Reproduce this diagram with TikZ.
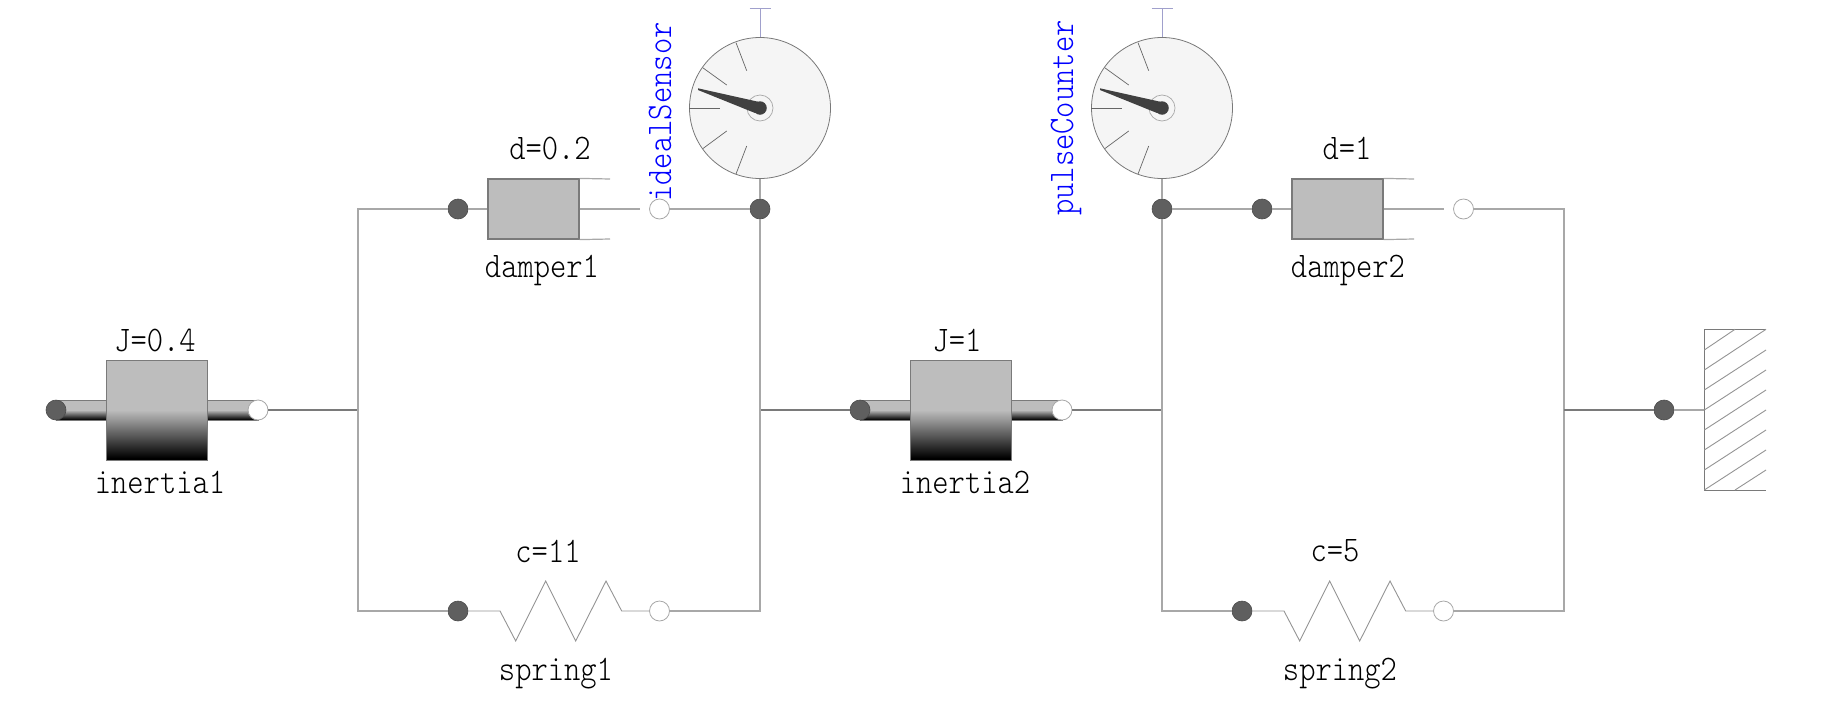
\documentclass[tikz,border=0pt]{standalone}
\usepackage{fontspec}
\newfontfamily\lblfont[FakeStretch=0.862]{Latin Modern Mono Light}
\definecolor{inertgray}{HTML}{BDBDBD}
\definecolor{wirecol}{HTML}{A8A8A8}
\definecolor{springcol}{HTML}{949494}
\definecolor{edgecol}{HTML}{7A7A7A}
\definecolor{dotcol}{HTML}{5F5F5F}
\definecolor{needlecol}{HTML}{404040}
\definecolor{facecol}{HTML}{F5F5F5}
\definecolor{topcol}{HTML}{A0A0CC}
\pgfdeclareverticalshading{inertshade}{100bp}{color(0bp)=(black); color(26bp)=(black); color(50bp)=(inertgray); color(75bp)=(inertgray); color(100bp)=(inertgray)}
\tikzset{
  wire/.style={draw=wirecol,line width=1.2pt},
  mainwire/.style={draw=edgecol,line width=1.2pt},
  thin line/.style={draw=springcol,line width=0.9pt},
  fulldot/.style={circle,draw=dotcol!80!black,fill=dotcol,line width=0.6pt,minimum size=20pt,inner sep=0pt},
  opendot/.style={circle,draw=wirecol,fill=white,line width=0.8pt,minimum size=20pt,inner sep=0pt},
  inertbox/.style={rectangle,draw=edgecol,line width=1pt,minimum width=100.5pt,minimum height=100pt,inner sep=0pt,shading=inertshade},
  shaftbox/.style={rectangle,draw=edgecol,line width=0.6pt,minimum width=202pt,minimum height=20pt,inner sep=0pt,shading=inertshade},
  damperbox/.style={rectangle,draw=edgecol,line width=1.2pt,fill=inertgray,minimum width=91pt,minimum height=60pt,inner sep=0pt},
  gaugeface/.style={circle,draw=needlecol!70,fill=facecol,line width=0.8pt,minimum size=141pt,inner sep=0pt},
  gaugering/.style={circle,draw=wirecol,line width=0.7pt,minimum size=26pt,inner sep=0pt},
  gaugehub/.style={circle,fill=needlecol,minimum size=13.5pt,inner sep=0pt},
  tickline/.style={draw=needlecol!80,line width=0.7pt},
  lbl/.style={font=\fontsize{36}{36}\lblfont,text=black,inner sep=0pt},
  bluelbl/.style={lbl,text=blue,rotate=90},
}
\newcommand{\gaugeAt}[2]{%
  \begin{scope}[shift={(#2,108)}]
    \node[gaugeface] (#1) at (0,0) {};
    \coordinate (#1top) at (0,-100);
    \draw[draw=topcol,line width=0.9pt] (#1) -- (#1top);
    \draw[draw=topcol,line width=0.9pt] (-10.5,-100) -- (10.5,-100);
    \draw[tickline] (-71,0) -- (-40,0);
    \draw[tickline] (-57.3,-40.3) -- (-33.3,-23);
    \draw[tickline] (-24,-65.3) -- (-13.3,-37.3);
    \draw[tickline] (-57.3,40.7) -- (-33.3,23);
    \draw[tickline] (-24,66) -- (-13.3,38);
    \node[gaugering] (#1ring) at (0,0) {};
    \fill[needlecol] (-62,-19.7) -- (-2,-6.3) -- (-5,5) -- (-62,-18) -- cycle;
    \node[gaugehub] (#1hub) at (0,0) {};
  \end{scope}}
\begin{document}
\begin{tikzpicture}[x=1pt,y=-1pt]
\useasboundingbox (0,0) rectangle (1836,707);
% junctions and free ends
\coordinate (j1) at (358,410);
\coordinate (j2) at (760,410);
\coordinate (j3) at (1162,410);
\coordinate (j4) at (1564,410);
\coordinate (fix) at (1704.3,410);
\coordinate (d1free) at (640,209);
\coordinate (d2free) at (1444,209);
\coordinate (d1t) at (610,179);
\coordinate (d1b) at (610,239);
\coordinate (d2t) at (1414,179);
\coordinate (d2b) at (1414,239);
% inertias
\node[shaftbox] (sh1) at (157,410) {};
\node[inertbox] (in1) at (157,410) {};
\node[fulldot] (in1l) at (56,410) {};
\node[opendot] (in1r) at (258,410) {};
\node[shaftbox] (sh2) at (961,410) {};
\node[inertbox] (in2) at (961,410) {};
\node[fulldot] (in2l) at (860,410) {};
\node[opendot] (in2r) at (1062,410) {};
% dampers
\node[fulldot] (d1l) at (458,209) {};
\node[damperbox] (d1) at (533.5,209) {};
\node[opendot] (d1r) at (659.5,209) {};
\node[fulldot] (d2l) at (1262,209) {};
\node[damperbox] (d2) at (1337.5,209) {};
\node[opendot] (d2r) at (1463.5,209) {};
% springs
\node[fulldot] (s1l) at (458,611) {};
\node[opendot] (s1r) at (659.5,611) {};
\node[fulldot] (s2l) at (1242,611) {};
\node[opendot] (s2r) at (1443.5,611) {};
% sensors
\node[fulldot] (g1j) at (760,209) {};
\node[fulldot] (g2j) at (1162,209) {};
\gaugeAt{g1}{760}
\gaugeAt{g2}{1162}
\node[fulldot] (fixd) at (1664,410) {};
% wires
\draw[mainwire] (in1r) -- (j1);
\draw[wire] (d1l) -| (j1);
\draw[wire] (s1l) -| (j1);
\draw[mainwire] (j2) -- (in2l);
\draw[wire] (g1j) -- (j2);
\draw[wire] (s1r) -| (j2);
\draw[wire] (d1r) -- (g1j);
\draw[wire] (g1) -- (g1j);
\draw[mainwire] (in2r) -- (j3);
\draw[wire] (g2j) -- (j3);
\draw[wire] (s2l) -| (j3);
\draw[wire] (g2) -- (g2j);
\draw[wire] (g2j) -- (d2l);
\draw[wire] (d2r) -| (j4);
\draw[wire] (s2r) -| (j4);
\draw[mainwire] (j4) -- (fixd);
\draw[wire] (fixd) -- (fix);
% damper rods
\draw[wire] (d1l) -- (d1);
\draw[wire] (d1) -- (d1free);
\draw[wire] (d1.north east) -- (d1t);
\draw[wire] (d1.south east) -- (d1b);
\draw[wire] (d2l) -- (d2);
\draw[wire] (d2) -- (d2free);
\draw[wire] (d2.north east) -- (d2t);
\draw[wire] (d2.south east) -- (d2b);
% springs
\draw[thin line] (s1l) -- (500,611) -- (515.7,641) -- (545.7,581) -- (575.7,641) -- (606,581) -- (621.7,611) -- (s1r);
\draw[thin line] (s2l) -- (1284,611) -- (1299.7,641) -- (1329.7,581) -- (1359.7,641) -- (1390,581) -- (1405.7,611) -- (s2r);
% fixed
\draw[draw=edgecol,line width=1pt] (1766,329.3) -- (1704.3,329.3) -- (1704.3,490.3) -- (1766,490.3);
\draw[thin line]
  (1704.3,350) -- (1735,329.3)
  (1704.3,370) -- (1766,329.3)
  (1704.3,390) -- (1766,350)
  (1704.3,410) -- (1766,370)
  (1704.3,430) -- (1766,390)
  (1704.3,450) -- (1766,410)
  (1704.3,470) -- (1766,430)
  (1704.3,490) -- (1766,450)
  (1735,490) -- (1766,470);
% labels
\node[lbl] (t1) at (155,340) {J=0.4};
\node[lbl] (t2) at (160,482) {inertia1};
\node[lbl] (t3) at (550,148) {d=0.2};
\node[lbl] (t4) at (542,270) {damper1};
\node[lbl] (t5) at (548,551) {c=11};
\node[lbl] (t6) at (556,674) {spring1};
\node[lbl] (t7) at (957,340) {J=1};
\node[lbl] (t8) at (965,482) {inertia2};
\node[lbl] (t9) at (1347,148) {d=1};
\node[lbl] (t10) at (1348,270) {damper2};
\node[lbl] (t11) at (1335,551) {c=5};
\node[lbl] (t12) at (1340,674) {spring2};
\node[bluelbl] (t13) at (660,112) {idealSensor};
\node[bluelbl] (t14) at (1066,118) {pulseCounter};
\end{tikzpicture}
\end{document}
